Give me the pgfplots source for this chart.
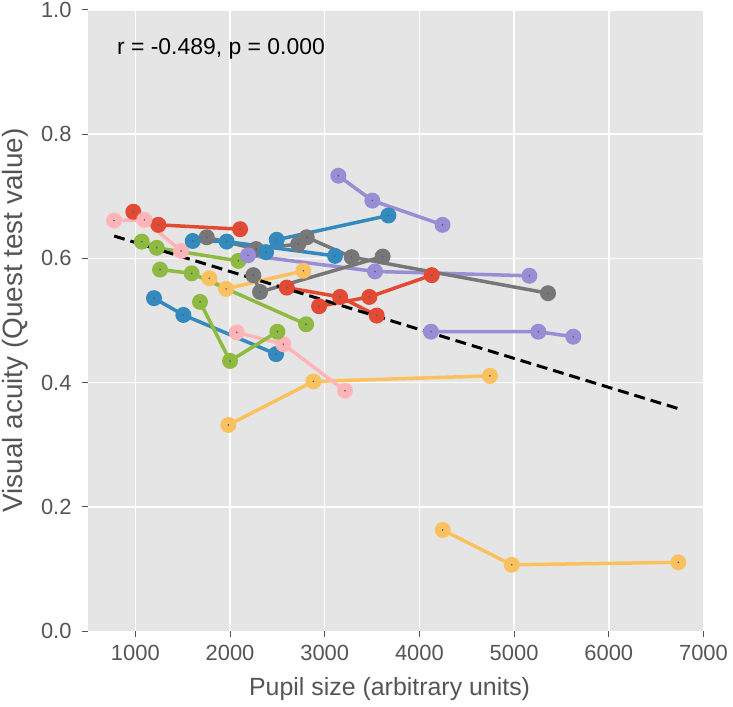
\documentclass[border=0pt]{standalone}
\usepackage{fontspec}
\setmainfont{Liberation Sans}
\usepackage{pgfplots}
\pgfplotsset{compat=1.18}
\definecolor{cR}{HTML}{E24A33}
\definecolor{cB}{HTML}{348ABD}
\definecolor{cP}{HTML}{988ED5}
\definecolor{cG}{HTML}{777777}
\definecolor{cY}{HTML}{FBC15E}
\definecolor{cN}{HTML}{8EBA42}
\definecolor{cK}{HTML}{FFB5B8}
\definecolor{bg}{HTML}{E5E5E5}
\definecolor{txt}{HTML}{555555}
\definecolor{dotc}{HTML}{4A5A80}
\pgfdeclareplotmark{dc}{%
  \pgfpathcircle{\pgfpointorigin}{\pgfplotmarksize}\pgfusepathqfill
  \begin{pgfscope}%
  \pgfsetfillcolor{dotc}%
  \pgfpathcircle{\pgfpointorigin}{0.9bp}\pgfusepathqfill
  \end{pgfscope}}
\pgfplotsset{ser/.style={color=#1, line width=3.5bp, mark=dc, mark size=8bp, mark options={fill=#1, draw=none}}}
\begin{document}
\begin{tikzpicture}
\path[use as bounding box] (-88bp,-75.7bp) rectangle (645bp,631.3bp);
\begin{axis}[at={(0,0)}, anchor=south west, scale only axis,
  width=615.5bp, height=621.5bp,
  xmin=500, xmax=7000, ymin=0, ymax=1,
  axis background/.style={fill=bg},
  axis line style={draw=none},
  grid=major, major grid style={white, line width=1.5bp},
  xtick={1000,2000,...,7000}, ytick={0,0.2,0.4,0.6,0.8,1.0},
  tick pos=left, tick align=outside, major tick length=6bp,
  tick style={txt, line width=1bp},
  tick label style={font=\fontsize{22}{26}\selectfont, text=txt},
  /pgf/number format/assume math mode=true,
  y tick label style={xshift=-7bp, /pgf/number format/.cd, fixed, fixed zerofill, precision=1},
  x tick label style={yshift=-4bp, /pgf/number format/.cd, 1000 sep={}},
  xlabel={Pupil size (arbitrary units)},
  ylabel={Visual acuity (Quest test value)},
  xlabel style={font=\fontsize{25}{30}\selectfont, text=txt, at={(axis description cs:0.49,-0.0925)}, anchor=center},
  ylabel style={font=\fontsize{28}{33}\selectfont, text=txt, at={(axis description cs:-0.1186,0.5)}, anchor=center},
]
\addplot[ser=cR] coordinates {(979,0.675) (1243,0.654) (2106,0.647)};
\addplot[ser=cB] coordinates {(1197,0.536) (1507,0.509) (2486,0.446)};
\addplot[ser=cP] coordinates {(3144,0.733) (3503,0.693) (4244,0.654)};
\addplot[ser=cG] coordinates {(1754,0.634) (2275,0.615) (2720,0.623)};
\addplot[ser=cY] coordinates {(1781,0.568) (1958,0.551) (2774,0.580)};
\addplot[ser=cN] coordinates {(1068,0.627) (1226,0.617) (2088,0.596)};
\addplot[ser=cK] coordinates {(775,0.661) (1095,0.662) (1483,0.612)};
\addplot[ser=cR] coordinates {(2599,0.553) (3162,0.538) (3549,0.508)};
\addplot[ser=cB] coordinates {(1606,0.628) (1965,0.627) (3109,0.604)};
\addplot[ser=cP] coordinates {(2190,0.605) (3531,0.579) (5161,0.572)};
\addplot[ser=cG] coordinates {(2810,0.634) (3285,0.602) (5358,0.544)};
\addplot[ser=cY] coordinates {(1982,0.332) (2880,0.402) (4745,0.411)};
\addplot[ser=cN] coordinates {(1261,0.582) (1595,0.576) (2803,0.494)};
\addplot[ser=cK] coordinates {(2071,0.481) (2563,0.462) (3214,0.387)};
\addplot[ser=cR] coordinates {(2940,0.523) (3471,0.538) (4130,0.573)};
\addplot[ser=cB] coordinates {(2380,0.610) (2493,0.630) (3672,0.669)};
\addplot[ser=cP] coordinates {(4122,0.482) (5256,0.482) (5625,0.474)};
\addplot[ser=cG] coordinates {(2246,0.573) (2317,0.546) (3612,0.603)};
\addplot[ser=cY] coordinates {(4246,0.163) (4975,0.107) (6734,0.111)};
\addplot[ser=cN] coordinates {(1683,0.530) (2000,0.435) (2500,0.482)};
\addplot[black, line width=3bp, dash pattern=on 11bp off 6bp] coordinates {(776,0.636) (6740,0.358)};
\node[anchor=west, font=\fontsize{23}{27}\selectfont, inner sep=0pt] at (rel axis cs:0.047,0.937) {r = -0.489, p = 0.000};
\end{axis}
\end{tikzpicture}
\end{document}
